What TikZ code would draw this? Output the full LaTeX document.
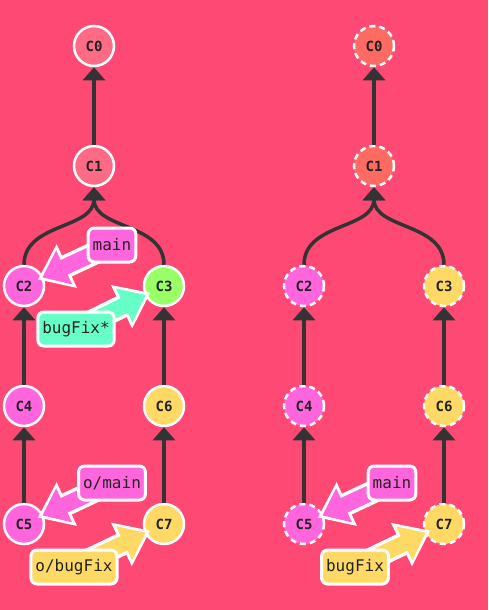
\documentclass[tikz,border=0pt]{standalone}
\usepackage{fontspec}
\setmonofont{DejaVu Sans Mono}
\usetikzlibrary{arrows.meta}
\definecolor{bg}{HTML}{FF4975}
\definecolor{edgegrey}{HTML}{333333}
\definecolor{rootpink}{HTML}{FF6B84}
\definecolor{rootred}{HTML}{FF6B62}
\definecolor{magenta}{HTML}{FF66DD}
\definecolor{lime}{HTML}{99FF66}
\definecolor{mint}{HTML}{66FFC8}
\definecolor{gold}{HTML}{FFD966}
\definecolor{ink}{HTML}{222222}
\pgfdeclarelayer{ptr}
\pgfdeclarelayer{tags}
\pgfsetlayers{main,ptr,tags}
\tikzset{
  commit/.style={circle, minimum size=40pt, inner sep=0pt, draw=white, line width=2.5pt,
    font=\ttfamily\bfseries\fontsize{14}{16}\selectfont, text=ink},
  ghost/.style={commit, dash pattern=on 6pt off 4pt},
  edge/.style={draw=edgegrey, line width=3.5pt, -{Triangle[width=22pt,length=13pt]}},
  tag/.style={rectangle, rounded corners=6pt, draw=white, line width=3pt,
    font=\ttfamily\fontsize{16}{19}\selectfont, inner xsep=4.5pt, inner ysep=0pt,
    minimum height=34pt, text=ink},
  ptrback/.style={draw=white, line width=23pt, -{Triangle[width=46pt,length=32pt]}, shorten >=-6pt},
  ptrfront/.style={draw=#1, line width=16pt, -{Triangle[width=36pt,length=24pt]}, shorten >=-1pt}
}
\begin{document}
\begin{tikzpicture}[x=1pt,y=-1pt]
  \fill[bg] (0,0) rectangle (488,610);
  \useasboundingbox (0,0) rectangle (488,610);

  % ---- local repository ----
  \node[commit, fill=rootpink] (a0) at (94,46) {C0};
  \node[commit, fill=rootpink] (a1) at (94,166) {C1};
  \node[commit, fill=magenta] (a2) at (24,286) {C2};
  \node[commit, fill=lime] (a3) at (164,286) {C3};
  \node[commit, fill=magenta] (a4) at (24,406) {C4};
  \node[commit, fill=gold] (a6) at (164,406) {C6};
  \node[commit, fill=magenta] (a5) at (24,524) {C5};
  \node[commit, fill=gold] (a7) at (164,524) {C7};

  \draw[edge] (a1) -- (a0);
  \draw[edge] (a2.north) .. controls +(0,-42) and +(0,42) .. (a1.south);
  \draw[edge] (a3.north) .. controls +(0,-42) and +(0,42) .. (a1.south);
  \draw[edge] (a4) -- (a2);
  \draw[edge] (a5) -- (a4);
  \draw[edge] (a6) -- (a3);
  \draw[edge] (a7) -- (a6);

  % ---- remote repository ----
  \node[ghost, fill=rootred] (b0) at (374,46) {C0};
  \node[ghost, fill=rootred] (b1) at (374,166) {C1};
  \node[ghost, fill=magenta] (b2) at (304,286) {C2};
  \node[ghost, fill=gold] (b3) at (444,286) {C3};
  \node[ghost, fill=magenta] (b4) at (304,406) {C4};
  \node[ghost, fill=gold] (b6) at (444,406) {C6};
  \node[ghost, fill=magenta] (b5) at (304,524) {C5};
  \node[ghost, fill=gold] (b7) at (444,524) {C7};

  \draw[edge] (b1) -- (b0);
  \draw[edge] (b2.north) .. controls +(0,-42) and +(0,42) .. (b1.south);
  \draw[edge] (b3.north) .. controls +(0,-42) and +(0,42) .. (b1.south);
  \draw[edge] (b4) -- (b2);
  \draw[edge] (b5) -- (b4);
  \draw[edge] (b6) -- (b3);
  \draw[edge] (b7) -- (b6);

  % ---- branch labels ----
  \begin{pgfonlayer}{tags}
    \node[tag, fill=magenta] (lmain) at (112,245) {main};
    \node[tag, fill=mint] (lbug) at (76,329) {bugFix*};
    \node[tag, fill=magenta] (lomain) at (112,483) {o/main};
    \node[tag, fill=gold] (lobug) at (74,567) {o/bugFix};
    \node[tag, fill=magenta] (rmain) at (392,483) {main};
    \node[tag, fill=gold] (rbug) at (355,567) {bugFix};
  \end{pgfonlayer}

  \begin{pgfonlayer}{ptr}
    \foreach \lbl/\tgt/\col in {lmain/a2/magenta, lbug/a3/mint, lomain/a5/magenta,
                                lobug/a7/gold, rmain/b5/magenta, rbug/b7/gold} {
      \draw[ptrback] (\lbl.center) -- (\tgt);
      \draw[ptrfront=\col] (\lbl.center) -- (\tgt);
    }
  \end{pgfonlayer}
\end{tikzpicture}
\end{document}
